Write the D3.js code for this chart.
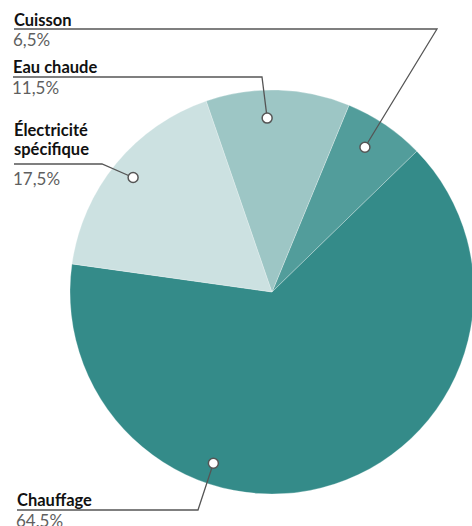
<!DOCTYPE html>
<html>
<head>
<meta charset="utf-8">
<script src="https://cdn.jsdelivr.net/npm/d3@7"></script>
<style>
  body { margin: 0; background: #fff; }
  svg { display: block; font-family: Lato, "Open Sans", sans-serif; }
  .name { font-weight: 700; font-size: 16.5px; fill: #111; }
  .value { font-size: 17px; fill: #5f5f5f; }
</style>
</head>
<body>
<div id="chart"></div>
<script>
// Data
const categories = ['Cuisson', 'Chauffage', 'Électricité spécifique', 'Eau chaude'];
const shares = [6.5, 64.5, 17.5, 11.5];
const valueLabels = ['6,5%', '64,5%', '17,5%', '11,5%'];
const colors = ['#529d9b', '#348b89', '#cce1e1', '#9dc6c5'];

// Layout
const width = 472;
const height = 526;
const cx = 272;
const cy = 292;
const radius = 202;
const startDeg = 22.4;

// label placement: text baseline, leader elbow, dot angle shift from slice middle and dot distance
const labelLayout = {
    'Cuisson':                { x: 14, y: 26, lineY: 29, elbowX: 437, shift: -1.4, r: 172, valueDy: 17 },
    'Eau chaude':             { x: 13, y: 73, lineY: 77, elbowX: 262, shift: -3.3, r: 174, valueDy: 17 },
    'Électricité spécifique': { x: 14, y: 136, lineY: 164, elbowX: 102, shift: 0, r: 180, valueDy: 21 },
    'Chauffage':              { x: 17, y: 506, lineY: 510, elbowX: 198, shift: 37, r: 181, valueDy: 17 }
};

const data = categories.map((c, i) => ({ name: c, share: shares[i], label: valueLabels[i], color: colors[i] }));

const svg = d3.select('#chart')
    .append('svg')
        .attr('width', width)
        .attr('height', height);

const pieGroup = svg.append('g')
    .attr('transform', `translate(${cx}, ${cy})`);

const toRad = d => d * Math.PI / 180;

const pie = d3.pie()
    .value(d => d.share)
    .sort(null)
    .startAngle(toRad(startDeg))
    .endAngle(toRad(startDeg + 360));

const arc = d3.arc()
    .innerRadius(0)
    .outerRadius(radius);

const arcs = pie(data);

pieGroup.selectAll('path')
    .data(arcs)
    .enter().append('path')
        .attr('d', arc)
        .attr('fill', d => d.data.color)
        .attr('stroke', 'rgba(255,255,255,0.45)')
        .attr('stroke-width', 0.6);

// Labels
const labelGroup = svg.append('g');

arcs.forEach(d => {
    const lay = labelLayout[d.data.name];
    const a = (d.startAngle + d.endAngle) / 2 + toRad(lay.shift);
    const px = cx + lay.r * Math.sin(a);
    const py = cy - lay.r * Math.cos(a);

    labelGroup.append('polyline')
        .attr('points', `${lay.x},${lay.lineY} ${lay.elbowX},${lay.lineY} ${px},${py}`)
        .attr('fill', 'none')
        .attr('stroke', '#555')
        .attr('stroke-width', 1.3);

    labelGroup.append('circle')
        .attr('cx', px)
        .attr('cy', py)
        .attr('r', 5)
        .attr('fill', '#fff')
        .attr('stroke', '#555')
        .attr('stroke-width', 1.5);

    const words = d.data.name === 'Électricité spécifique' ? ['Électricité', 'spécifique'] : [d.data.name];
    const name = labelGroup.append('text')
        .attr('class', 'name')
        .attr('x', lay.x)
        .attr('y', lay.y);
    words.forEach((w, i) => {
        name.append('tspan')
            .attr('x', lay.x)
            .attr('dy', i === 0 ? 0 : 19)
            .text(w);
    });

    labelGroup.append('text')
        .attr('class', 'value')
        .attr('x', lay.x - 1)
        .attr('y', lay.lineY + lay.valueDy)
        .text(d.data.label);
});
</script>
</body>
</html>
